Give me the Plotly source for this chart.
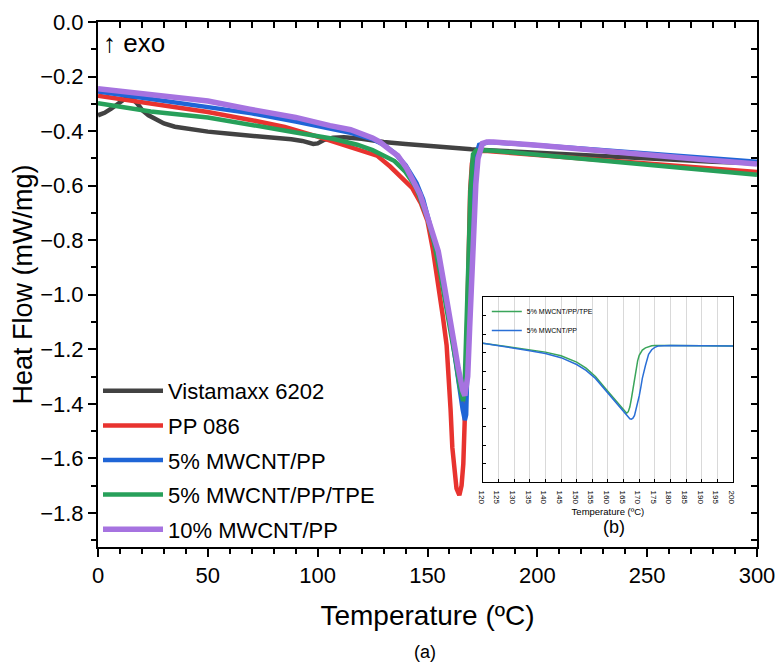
import plotly.graph_objects as go

# ---------------- main chart data ----------------
names = ["Vistamaxx 6202", "PP 086", "5% MWCNT/PP", "5% MWCNT/PP/TPE", "10% MWCNT/PP"]
colors = ["#424242", "#e8332f", "#1f65d6", "#27a05a", "#a673e0"]
widths = [4.5, 4.5, 4.5, 4.5, 5.5]

vis_T = [0, 3, 6, 9, 12, 14, 16, 18, 20, 23, 26, 30, 35, 40, 50, 60, 70, 80, 88, 93, 96, 98,
         100, 103, 107, 112, 120, 130, 140, 150, 160, 170, 180, 200, 220, 240, 260, 280, 300]
vis_Q = [-0.342, -0.333, -0.318, -0.298, -0.283, -0.278, -0.284, -0.300, -0.322, -0.342, -0.356,
         -0.372, -0.384, -0.391, -0.402, -0.410, -0.416, -0.423, -0.430, -0.436, -0.443, -0.447,
         -0.445, -0.432, -0.424, -0.423, -0.428, -0.440, -0.447, -0.455, -0.461, -0.467, -0.471,
         -0.480, -0.489, -0.497, -0.505, -0.512, -0.518]

pp_T = [0, 25, 50, 70, 85, 100, 110, 120, 127, 133, 138, 143, 147, 150, 152.5, 155, 157, 158.7,
        159.8, 160.5, 161.3, 162.2, 163.2, 164.5, 165.5, 166.3, 167.0, 167.6, 168.2, 168.8,
        169.4, 170.2, 171.2, 173, 176, 180, 200, 228, 250, 275, 300]
pp_Q = [-0.270, -0.300, -0.330, -0.360, -0.385, -0.420, -0.445, -0.470, -0.490, -0.530, -0.568,
        -0.608, -0.665, -0.730, -0.836, -0.960, -1.080, -1.185, -1.300, -1.420, -1.560, -1.650,
        -1.710, -1.735, -1.700, -1.620, -1.480, -1.300, -1.050, -0.800, -0.620, -0.520, -0.482,
        -0.473, -0.472, -0.475, -0.487, -0.503, -0.516, -0.532, -0.550]

c5_T = [0, 24, 50, 70, 90, 115, 125, 130, 135, 140, 145, 148, 151, 153, 155, 157, 159, 160.5,
        162, 163.5, 165, 166, 167, 167.6, 168.2, 169, 170, 171, 172, 173.5, 176, 178, 200, 228,
        250, 275, 300]
c5_Q = [-0.255, -0.281, -0.310, -0.335, -0.365, -0.406, -0.430, -0.450, -0.480, -0.525, -0.590,
        -0.650, -0.740, -0.800, -0.870, -0.950, -1.040, -1.110, -1.200, -1.290, -1.370, -1.420,
        -1.460, -1.440, -1.250, -0.980, -0.750, -0.570, -0.490, -0.450, -0.442, -0.440, -0.452,
        -0.468, -0.482, -0.497, -0.512]

tpe_T = [0, 24, 50, 69, 90, 107, 118, 125, 129.7, 135, 140, 145, 150, 153, 156, 159, 161, 163,
         164.5, 165.5, 166.2, 166.8, 167.3, 167.8, 168.4, 169, 169.5, 170, 170.7, 172, 175, 180,
         200, 228, 250, 275, 300]
tpe_Q = [-0.298, -0.328, -0.350, -0.378, -0.405, -0.428, -0.450, -0.470, -0.487, -0.510, -0.550,
         -0.610, -0.720, -0.810, -0.930, -1.060, -1.150, -1.250, -1.330, -1.380, -1.390, -1.360,
         -1.250, -1.100, -0.950, -0.780, -0.620, -0.530, -0.485, -0.472, -0.470, -0.472, -0.487,
         -0.509, -0.524, -0.541, -0.560]

c10_T = [0, 24, 50, 69, 90, 105.6, 115, 125, 128.4, 133, 136.5, 140.5, 143, 146.6, 149, 151.1,
         153, 154.9, 157.5, 160.2, 162.5, 164, 164.8, 166, 167, 167.8, 168.3, 169.2, 170, 171,
         172, 173, 174, 175, 177, 180, 200, 228, 250, 275, 300]
c10_Q = [-0.245, -0.266, -0.290, -0.320, -0.350, -0.380, -0.395, -0.425, -0.440, -0.470, -0.490,
         -0.536, -0.580, -0.632, -0.690, -0.740, -0.800, -0.840, -0.960, -1.076, -1.196, -1.270,
         -1.315, -1.350, -1.370, -1.340, -1.300, -1.120, -0.955, -0.770, -0.595, -0.500, -0.460,
         -0.445, -0.440, -0.440, -0.452, -0.473, -0.488, -0.504, -0.521]

series_T = [vis_T, pp_T, c5_T, tpe_T, c10_T]
series_Q = [vis_Q, pp_Q, c5_Q, tpe_Q, c10_Q]

# ---------------- inset data (arbitrary units) ----------------
inset_names = ["5% MWCNT/PP/TPE", "5% MWCNT/PP"]
inset_colors = ["#3aa55a", "#2a6fd6"]
in_T = [120, 125, 130, 135, 140, 145, 150, 153, 156, 159, 161, 163, 164.5, 165.5, 166, 166.5,
        167, 167.5, 168, 168.5, 169, 169.5, 170, 170.5, 171, 172, 173, 174, 175, 176, 178, 180,
        190, 200]
in_tpe = [-0.250, -0.262, -0.275, -0.285, -0.298, -0.318, -0.352, -0.385, -0.430, -0.490, -0.530,
          -0.570, -0.600, -0.620, -0.628, -0.620, -0.595, -0.550, -0.500, -0.440, -0.385, -0.345,
          -0.315, -0.298, -0.287, -0.275, -0.268, -0.264, -0.262, -0.261, -0.262, -0.262, -0.263,
          -0.265]
in_c5 = [-0.250, -0.262, -0.276, -0.290, -0.305, -0.328, -0.365, -0.397, -0.440, -0.500, -0.540,
         -0.580, -0.610, -0.632, -0.643, -0.652, -0.658, -0.660, -0.655, -0.640, -0.610, -0.575,
         -0.535, -0.490, -0.440, -0.370, -0.310, -0.285, -0.272, -0.265, -0.262, -0.262, -0.263,
         -0.265]
inset_Q = [in_tpe, in_c5]
inset_ticks = list(range(120, 201, 5))

FONT = "Arial, Liberation Sans, sans-serif"
PH = 525.0  # plot-area height in px (bottom edge at 547 on the page)

fig = go.Figure()
for i in range(len(names)):
    fig.add_trace(go.Scatter(x=series_T[i], y=series_Q[i], mode="lines", name=names[i],
                             legendgroup=names[i],
                             line=dict(color=colors[i], width=widths[i])))

# dummy trace for inward mirror ticks on top/right
fig.add_trace(go.Scatter(x=[None], y=[None], xaxis="x2", yaxis="y2", showlegend=False,
                         hoverinfo="skip"))

for i in range(len(inset_names)):
    fig.add_trace(go.Scatter(x=in_T, y=inset_Q[i], mode="lines", name=inset_names[i],
                             xaxis="x3", yaxis="y3", legend="legend2",
                             line=dict(color=inset_colors[i], width=1.5)))

fig.update_layout(
    width=775, height=663,
    margin=dict(l=90, r=26, t=14, b=124),
    paper_bgcolor="white", plot_bgcolor="white",
    font=dict(family=FONT, color="black"),
    xaxis=dict(range=[0, 300], dtick=50, tick0=0, showgrid=False, zeroline=False,
               automargin=False, ticklabeloverflow="allow",
               showline=True, linecolor="black", linewidth=2, ticks="outside", ticklen=8,
               tickwidth=2, tickcolor="black", tickfont=dict(size=22),
               minor=dict(dtick=10, ticks="outside", ticklen=5, tickwidth=2, tickcolor="black"),
               title=dict(text="Temperature (ºC)", font=dict(size=28), standoff=18)),
    yaxis=dict(range=[-1.925, 0], dtick=0.2, tick0=0, tickformat=".1f", showgrid=False,
               automargin=False, ticklabeloverflow="allow",
               zeroline=False, showline=True, linecolor="black", linewidth=2, ticks="outside",
               ticklen=8, tickwidth=2, tickcolor="black", tickfont=dict(size=22),
               minor=dict(dtick=0.1, ticks="outside", ticklen=5, tickwidth=2, tickcolor="black"),
               title=dict(text="Heat Flow (mW/mg)", font=dict(size=27), standoff=4)),
    xaxis2=dict(overlaying="x", side="top", anchor="y", range=[0, 300], dtick=10, tick0=0,
                automargin=False,
                showticklabels=False, showgrid=False, zeroline=False, showline=True,
                linecolor="black", linewidth=2, ticks="inside", ticklen=6, tickwidth=2,
                tickcolor="black"),
    yaxis2=dict(overlaying="y", side="right", anchor="x", range=[-1.925, 0], dtick=0.1, tick0=0,
                automargin=False,
                showticklabels=False, showgrid=False, zeroline=False, showline=True,
                linecolor="black", linewidth=2, ticks="inside", ticklen=6, tickwidth=2,
                tickcolor="black"),
    xaxis3=dict(domain=[0.584, 0.9636], anchor="y3", range=[120, 200], tickvals=inset_ticks,
                automargin=False,
                showgrid=True, gridcolor="#d9d9d9", gridwidth=1, zeroline=False, showline=True,
                mirror=True, linecolor="black", linewidth=1, ticks="inside", ticklen=3,
                tickcolor="black", tickfont=dict(size=8), ticklabelstandoff=2,
                title=dict(text="Temperature (ºC)", font=dict(size=9.5), standoff=4)),
    yaxis3=dict(domain=[65 / PH, 250 / PH], anchor="x3", range=[-1.0, 0.0], dtick=0.1, tick0=0,
                automargin=False,
                showticklabels=False, showgrid=False, zeroline=False, showline=True, mirror=True,
                linecolor="black", linewidth=1, ticks="inside", ticklen=3, tickcolor="black"),
    legend=dict(x=0.0, y=177 / PH, xanchor="left", yanchor="top", bgcolor="rgba(0,0,0,0)",
                font=dict(size=22), itemwidth=60, tracegroupgap=3),
    legend2=dict(x=0.59, y=250 / PH, xanchor="left", yanchor="top", bgcolor="rgba(0,0,0,0)",
                 font=dict(size=7), itemwidth=30, tracegroupgap=0),
    showlegend=True,
)

fig.add_annotation(text="↑ exo", xref="paper", yref="paper", x=0.004, y=(547 - 43) / PH,
                   xanchor="left", yanchor="middle", showarrow=False, font=dict(size=26))
fig.add_annotation(text="(b)", xref="paper", yref="paper", x=(614 - 98) / 659,
                   y=(547 - 527) / PH, xanchor="center", yanchor="middle", showarrow=False,
                   font=dict(size=18))
fig.add_annotation(text="(a)", xref="paper", yref="paper", x=(425 - 98) / 659,
                   y=(547 - 652) / PH, xanchor="center", yanchor="middle", showarrow=False,
                   font=dict(size=18))

fig.write_html("out.html")
